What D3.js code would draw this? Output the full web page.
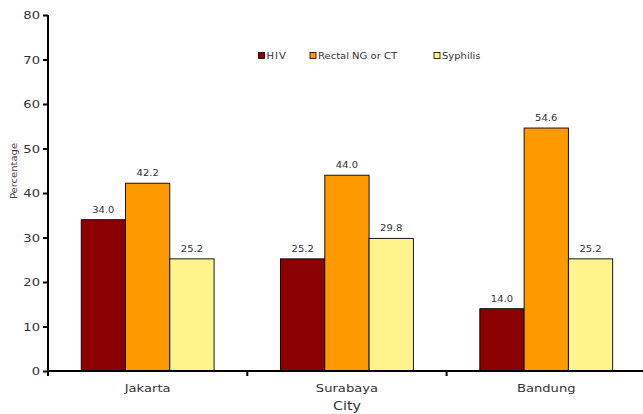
<!DOCTYPE html>
<html><head><meta charset="utf-8">
<script src="https://cdn.jsdelivr.net/npm/d3@7"></script>
<style>
body{margin:0;background:#fff;}
svg{display:block;font-family:"DejaVu Sans",Verdana,sans-serif;}
</style></head>
<body>
<svg id="c" width="643" height="414"></svg>
<script>
const cities = ["Jakarta","Surabaya","Bandung"];
const seriesNames = ["HIV","Rectal NG or CT","Syphilis"];
const legendLabels = ["HIV","Rectal NG or CT","Syphilis"];
const hivValues = [34.0, 25.2, 14.0];
const rectalValues = [42.2, 44.0, 54.6];
const syphilisValues = [25.2, 29.8, 25.2];
const yTicks = [0,10,20,30,40,50,60,70,80];
const colors = ["#8B0000","#FF9900","#FFF38C"];

const values = [hivValues, rectalValues, syphilisValues];
const SX = 1.25; // horizontal text stretch of the original

const svg = d3.select("#c");
const mLeft = 48, mBottom = 371, mTop = 15;
const bandW = 199.3;
const x0 = d3.scaleBand().domain(cities).range([mLeft, mLeft + bandW*cities.length]).padding(0);
const x1 = d3.scaleBand().domain(seriesNames).range([x0.bandwidth()/6, x0.bandwidth()*5/6]).padding(0);
const y = d3.scaleLinear().domain([0,80]).range([mBottom, mTop]);

// bars
cities.forEach((c, ci) => {
  const g = svg.append("g").attr("transform", `translate(${x0(c)},0)`);
  seriesNames.forEach((s, si) => {
    const v = values[si][ci];
    g.append("rect")
      .attr("x", x1(s)).attr("y", y(v))
      .attr("width", x1.bandwidth()).attr("height", y(0) - y(v))
      .attr("fill", colors[si]).attr("stroke", "#000").attr("stroke-width", 0.9);
    g.append("text")
      .attr("transform", `translate(${x1(s) + x1.bandwidth()/2},${y(v) - 7}) scale(${SX},1)`)
      .attr("text-anchor", "middle").attr("font-size", 8).attr("fill", "#333")
      .text(v.toFixed(1));
  });
});

// y axis
const ya = svg.append("g").attr("transform", `translate(${mLeft},0)`)
  .call(d3.axisLeft(y).tickValues(yTicks).tickSize(5).tickFormat(d3.format("d")));
ya.select(".domain").attr("stroke", "#000").attr("stroke-width", 2).attr("d", `M0,${mTop}V${mBottom}`);
ya.selectAll(".tick line").attr("stroke", "#000").attr("stroke-width", 2);
ya.selectAll(".tick text").attr("x", 0).attr("dy", null)
  .attr("transform", `translate(-8,3.8) scale(${SX},1)`)
  .attr("font-size", 10.5).attr("fill", "#333").attr("font-family", "DejaVu Sans");

// x axis
const xa = svg.append("g").attr("transform", `translate(0,${mBottom})`)
  .call(d3.axisBottom(x0).tickSize(0).tickPadding(0));
xa.select(".domain").attr("stroke", "#000").attr("stroke-width", 2).attr("d", `M${mLeft-1},0H643`);
xa.selectAll(".tick text").attr("y", 0).attr("dy", null)
  .attr("transform", `translate(0,21) scale(${SX},1)`)
  .attr("font-size", 10.5).attr("fill", "#333").attr("font-family", "DejaVu Sans");
cities.forEach(c => {
  xa.append("line").attr("x1", x0(c)).attr("x2", x0(c)).attr("y1", 0).attr("y2", 5)
    .attr("stroke", "#000").attr("stroke-width", 2);
});

// axis titles
svg.append("text")
  .attr("transform", `translate(${mLeft + bandW*1.5},410) scale(${SX},1)`)
  .attr("text-anchor", "middle").attr("font-size", 11.5).attr("fill", "#333").text("City");
svg.append("text")
  .attr("transform", `translate(17,171) rotate(-90) scale(${SX},1)`)
  .attr("text-anchor", "middle").attr("font-size", 8).attr("fill", "#444").text("Percentage");

// legend
const legendX = [258.5, 310, 434];
legendLabels.forEach((l, i) => {
  svg.append("rect").attr("x", legendX[i]).attr("y", 52.5).attr("width", 6).attr("height", 6)
    .attr("fill", colors[i]).attr("stroke", "#000").attr("stroke-width", 0.8);
  svg.append("text")
    .attr("transform", `translate(${legendX[i] + 8},58.5) scale(${SX},1)`)
    .attr("font-size", 8).attr("fill", "#333")
    .attr("letter-spacing", i === 0 ? 0.8 : 0)
    .text(l);
});
</script>
</body></html>
